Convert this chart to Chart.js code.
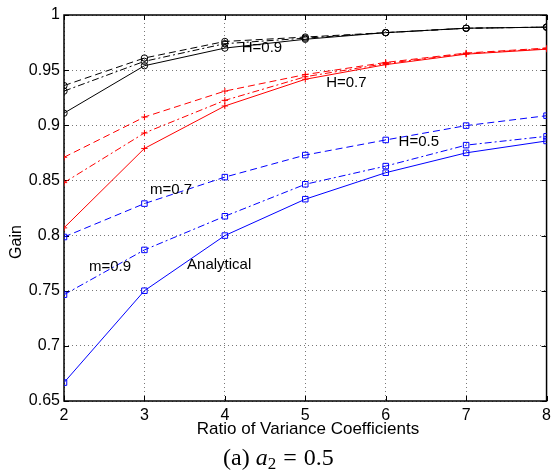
<!DOCTYPE html>
<html>
<head>
<meta charset="utf-8">
<script src="https://cdn.jsdelivr.net/npm/chart.js@4.4.1/dist/chart.umd.min.js"></script>
<style>
html,body{margin:0;padding:0;background:#fff;}
#wrap{width:556px;height:473px;position:relative;}
</style>
</head>
<body>
<div id="wrap"><canvas id="c" width="556" height="473"></canvas></div>
<script>
const ratios = [2, 3, 4, 5, 6, 7, 8];
const xTicks = [2, 3, 4, 5, 6, 7, 8];
const yTicks = [0.65, 0.7, 0.75, 0.8, 0.85, 0.9, 0.95, 1];

// H = 0.9 (black, circles)
const h09Analytical = [0.911, 0.954, 0.970, 0.978, 0.984, 0.988, 0.989];
const h09M07 = [0.936, 0.961, 0.976, 0.980, 0.984, 0.988, 0.989];
const h09M09 = [0.931, 0.958, 0.974, 0.979, 0.984, 0.988, 0.989];
// H = 0.7 (red, plus)
const h07Analytical = [0.807, 0.879, 0.9175, 0.9417, 0.955, 0.9645, 0.969];
const h07M07 = [0.871, 0.9075, 0.931, 0.946, 0.957, 0.9655, 0.970];
const h07M09 = [0.848, 0.893, 0.9226, 0.944, 0.956, 0.965, 0.9695];
// H = 0.5 (blue, squares)
const h05Analytical = [0.6667, 0.750, 0.800, 0.833, 0.857, 0.875, 0.8858];
const h05M07 = [0.7987, 0.829, 0.853, 0.873, 0.8867, 0.8997, 0.9087];
const h05M09 = [0.7464, 0.787, 0.8175, 0.8465, 0.863, 0.882, 0.890];

const annotations = [
  {text: 'H=0.9', x: 4.21, y: 0.9704},
  {text: 'H=0.7', x: 5.26, y: 0.9383},
  {text: 'H=0.5', x: 6.16, y: 0.8853},
  {text: 'm=0.7', x: 3.07, y: 0.8413},
  {text: 'm=0.9', x: 2.31, y: 0.7718},
  {text: 'Analytical', x: 3.53, y: 0.7733}
];

const SOLID = [], DASH = [7, 4], DASHDOT = [7, 3, 2, 3];
const markerRadius = {circle: 3.2, cross: 3.2, rect: 3.9};
function ds(label, data, color, style, dash) {
  return {
    label, data: ratios.map((r, i) => ({x: r, y: data[i]})),
    borderColor: color, backgroundColor: 'rgba(0,0,0,0)',
    borderWidth: 1, borderDash: dash,
    pointStyle: style, pointRadius: markerRadius[style],
    pointBorderColor: color, pointBackgroundColor: 'rgba(0,0,0,0)',
    pointBorderWidth: 1, tension: 0, fill: false
  };
}

const decor = {
  id: 'decor',
  beforeDatasetsDraw(chart) {
    const {ctx, chartArea: a, scales} = chart;
    ctx.save();
    ctx.strokeStyle = '#000';
    ctx.lineWidth = 1;
    const L = 5;
    ctx.beginPath();
    xTicks.forEach(t => {
      const px = Math.round(scales.x.getPixelForValue(t)) + 0.5;
      ctx.moveTo(px, a.bottom); ctx.lineTo(px, a.bottom - L);
      ctx.moveTo(px, a.top); ctx.lineTo(px, a.top + L);
    });
    yTicks.forEach(t => {
      const py = Math.round(scales.y.getPixelForValue(t)) + 0.5;
      ctx.moveTo(a.left, py); ctx.lineTo(a.left + L, py);
      ctx.moveTo(a.right, py); ctx.lineTo(a.right - L, py);
    });
    ctx.stroke();
    ctx.lineWidth = 1.5;
    ctx.strokeRect(a.left, a.top, a.right - a.left, a.bottom - a.top);
    ctx.restore();
  },
  afterDraw(chart) {
    const {ctx, scales} = chart;
    ctx.save();
    ctx.fillStyle = '#000';
    ctx.font = '15px "Liberation Sans", Arial, sans-serif';
    ctx.textBaseline = 'middle';
    ctx.textAlign = 'left';
    annotations.forEach(n => {
      ctx.fillText(n.text, scales.x.getPixelForValue(n.x), scales.y.getPixelForValue(n.y));
    });
    // axis titles
    ctx.font = '17px "Liberation Sans", Arial, sans-serif';
    ctx.textAlign = 'center';
    ctx.fillText('Ratio of Variance Coefficients', 308, 429);
    ctx.save();
    ctx.translate(17, 242);
    ctx.rotate(-Math.PI / 2);
    ctx.font = '16px "Liberation Sans", Arial, sans-serif';
    ctx.fillText('Gain', 0, 0);
    ctx.restore();
    // caption
    const cy = 465;
    ctx.textBaseline = 'alphabetic';
    ctx.textAlign = 'left';
    let x = 223;
    const put = (t, font, dy, gap) => { ctx.font = font; ctx.fillText(t, x, cy + (dy || 0)); x += ctx.measureText(t).width + (gap || 0); };
    put('(a)', '24px "Liberation Serif", serif', 0, 6);
    put('a', 'italic 24px "Liberation Serif", serif', 0, 0);
    put('2', '17px "Liberation Serif", serif', 4, 7);
    put('=', '24px "Liberation Serif", serif', 0, 7);
    put('0.5', '24px "Liberation Serif", serif', 0, 0);
    ctx.restore();
  }
};

new Chart(document.getElementById('c'), {
  type: 'line',
  data: {
    datasets: [
      ds('H=0.9 Analytical', h09Analytical, '#000', 'circle', SOLID),
      ds('H=0.9 m=0.7', h09M07, '#000', 'circle', DASH),
      ds('H=0.9 m=0.9', h09M09, '#000', 'circle', DASHDOT),
      ds('H=0.7 Analytical', h07Analytical, '#ff0000', 'cross', SOLID),
      ds('H=0.7 m=0.7', h07M07, '#ff0000', 'cross', DASH),
      ds('H=0.7 m=0.9', h07M09, '#ff0000', 'cross', DASHDOT),
      ds('H=0.5 Analytical', h05Analytical, '#0000ff', 'rect', SOLID),
      ds('H=0.5 m=0.7', h05M07, '#0000ff', 'rect', DASH),
      ds('H=0.5 m=0.9', h05M09, '#0000ff', 'rect', DASHDOT)
    ]
  },
  options: {
    responsive: false, animation: false, devicePixelRatio: 1,
    layout: {padding: {left: 0, right: 5, top: 15, bottom: 0}},
    plugins: {legend: {display: false}, tooltip: {enabled: false}},
    scales: {
      x: {
        type: 'linear', min: 2, max: 8,
        afterBuildTicks: s => { s.ticks = xTicks.map(v => ({value: v})); },
        afterFit: s => { s.height = 72; },
        ticks: {color: '#000', font: {size: 16, family: '"Liberation Sans", Arial, sans-serif'}, padding: 5, maxRotation: 0,
          callback: v => String(v)},
        grid: {color: '#555', lineWidth: 0.8, drawTicks: false},
        border: {display: false, dash: [1, 3]}
      },
      y: {
        type: 'linear', min: 0.65, max: 1,
        afterBuildTicks: s => { s.ticks = yTicks.map(v => ({value: v})); },
        afterFit: s => { s.width = 64; },
        ticks: {color: '#000', font: {size: 16, family: '"Liberation Sans", Arial, sans-serif'}, padding: 4,
          callback: v => String(parseFloat(v.toFixed(2)))},
        grid: {color: '#555', lineWidth: 0.8, drawTicks: false},
        border: {display: false, dash: [1, 3]}
      }
    }
  },
  plugins: [decor]
});
</script>
</body>
</html>
